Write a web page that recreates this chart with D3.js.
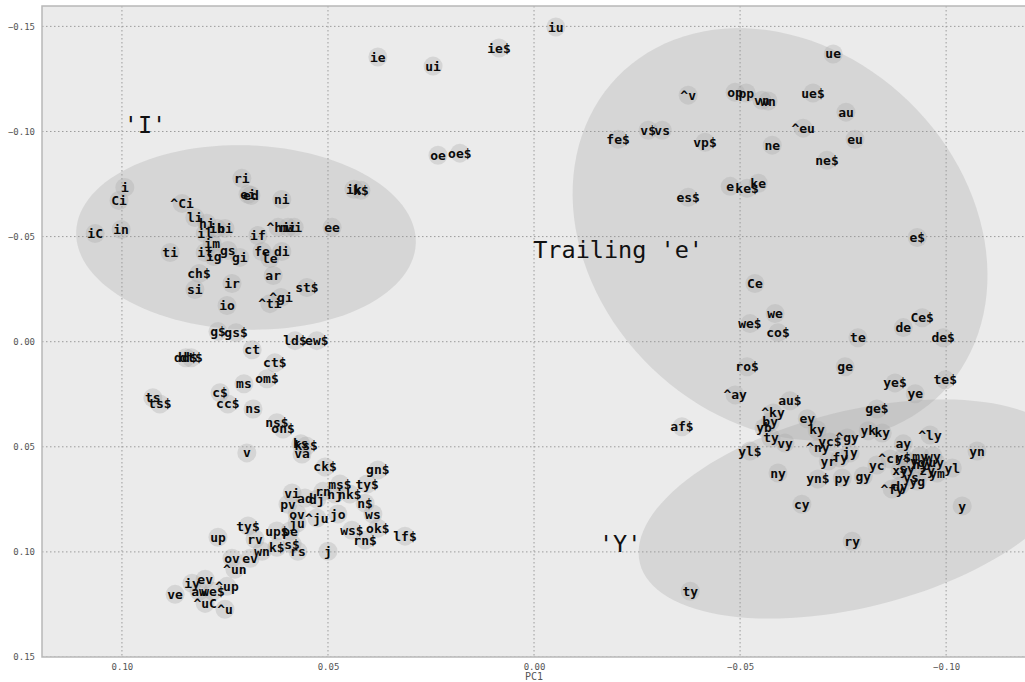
<!DOCTYPE html>
<html>
<head>
<meta charset="utf-8">
<script src="https://cdn.jsdelivr.net/npm/d3@7"></script>
<style>
  html, body { margin: 0; padding: 0; background: #ffffff; }
  svg { display: block; }
</style>
</head>
<body>
<svg id="chart" width="1025" height="682"></svg>
<script>
// Bigram features projected on the first two principal components.
const labels = [
  "iu","ie$","ie","ui","oe","oe$","ik","k$",
  "i","Ci","iC","in","^Ci","ri","ei","ed","ni","li","hi","ih","bi","il","im",
  "^hi","mi","wi","if","ee","ti","it","ig","gs","gi","fe","le","di",
  "ch$","si","ir","ar","st$","^gi","^ti","io","g$","gs$",
  "ld$","ew$","ct","dd$","dt$","ct$","om$","ms","c$","cc$","ts","ts$","ns","ns$","on$",
  "ks","ks$","va","v","ck$",
  "gn$","ms$","ty$","vi","ad","dj","rn","nj","nk$","pv","ov","^ju","jo","n$","ws","ju",
  "up$","pe","ws$","ok$","rn$","lf$","j","ty$","up","rv","k$","s$","rs",
  "ov","ev","wn","^un","iy","ev","^up","aw","we$","ve","^uC","^u",
  "ue","^v","op","pp","vn","wn","ue$","au","^eu","eu","ne","ne$",
  "fe$","v$","vs","vp$","es$","e","ke$","ke","e$",
  "Ce","we","we$","co$","Ce$","de","te","de$","ro$","ge","ye$","te$","ye",
  "^ay","au$","af$","ge$",
  "^ky","ey","ky","by","yb","^gy","yk","ky","ty","vy","yl$","yc$","^ny","yr","fy","jy",
  "ny","yn$","py","gy","cy","ry","ty",
  "ay","^ly","yn","yl","y","yc","^cr","y$","wy","my","ym","xy","sy","hy","yg","ys",
  "dy","^fy","zy","uy","oy","^y"
];

const pc1 = [
  -0.0053, 0.0085, 0.0379, 0.0245, 0.0233, 0.0180, 0.0437, 0.0420,
  0.0993, 0.1007, 0.1065, 0.1002, 0.0854, 0.0709, 0.0694, 0.0687, 0.0612, 0.0823, 0.0794, 0.0769, 0.0750, 0.0798, 0.0781,
  0.0621, 0.0597, 0.0582, 0.0670, 0.0490, 0.0883, 0.0798, 0.0777, 0.0743, 0.0714, 0.0660, 0.0641, 0.0612,
  0.0813, 0.0823, 0.0733, 0.0633, 0.0551, 0.0614, 0.0641, 0.0745, 0.0767, 0.0723,
  0.0580, 0.0527, 0.0684, 0.0845, 0.0832, 0.0629, 0.0648, 0.0704, 0.0762, 0.0743, 0.0925, 0.0908, 0.0682, 0.0624, 0.0609,
  0.0566, 0.0553, 0.0563, 0.0697, 0.0507,
  0.0379, 0.0471, 0.0405, 0.0587, 0.0556, 0.0527, 0.0512, 0.0483, 0.0447, 0.0597, 0.0575, 0.0527, 0.0476, 0.0410, 0.0391, 0.0575,
  0.0624, 0.0592, 0.0442, 0.0379, 0.0410, 0.0313, 0.0500, 0.0694, 0.0767, 0.0677, 0.0624, 0.0587, 0.0573,
  0.0733, 0.0689, 0.0660, 0.0726, 0.0830, 0.0798, 0.0745, 0.0813, 0.0779, 0.0871, 0.0798, 0.0750,
  -0.0726, -0.0374, -0.0488, -0.0515, -0.0553, -0.0568, -0.0677, -0.0757, -0.0653, -0.0779, -0.0578, -0.0711,
  -0.0204, -0.0277, -0.0311, -0.0415, -0.0374, -0.0476, -0.0517, -0.0544, -0.0930,
  -0.0536, -0.0585, -0.0524, -0.0592, -0.0942, -0.0896, -0.0786, -0.0993, -0.0517, -0.0755, -0.0876, -0.0998, -0.0925,
  -0.0488, -0.0621, -0.0359, -0.0832,
  -0.0580, -0.0663, -0.0687, -0.0573, -0.0558, -0.0760, -0.0811, -0.0845, -0.0575, -0.0609, -0.0524, -0.0718, -0.0689, -0.0714, -0.0743, -0.0767,
  -0.0592, -0.0689, -0.0748, -0.0799, -0.0650, -0.0772, -0.0379,
  -0.0896, -0.0961, -0.1075, -0.1015, -0.1039, -0.0832, -0.0864, -0.0896, -0.0968, -0.0937, -0.0978, -0.0888, -0.0905, -0.0937, -0.0930, -0.0915,
  -0.0888, -0.0869, -0.0954, -0.0976, -0.0949, -0.0913
];

const pc2 = [
  -0.1497, -0.1397, -0.1354, -0.1311, -0.0887, -0.0897, -0.0725, -0.0720,
  -0.0734, -0.0672, -0.0515, -0.0534, -0.0658, -0.0777, -0.0701, -0.0696, -0.0677, -0.0591, -0.0563, -0.0539, -0.0539, -0.0515, -0.0467,
  -0.0544, -0.0544, -0.0544, -0.0505, -0.0544, -0.0424, -0.0424, -0.0405, -0.0434, -0.0401, -0.0429, -0.0396, -0.0429,
  -0.0324, -0.0248, -0.0277, -0.0315, -0.0258, -0.0210, -0.0181, -0.0172, -0.0048, -0.0043,
  -0.0005, -0.0005, 0.0038, 0.0076, 0.0076, 0.0100, 0.0176, 0.0200, 0.0243, 0.0296, 0.0267, 0.0296, 0.0320, 0.0386, 0.0415,
  0.0486, 0.0496, 0.0534, 0.0529, 0.0596,
  0.0610, 0.0677, 0.0677, 0.0720, 0.0744, 0.0749, 0.0711, 0.0725, 0.0725, 0.0773, 0.0820, 0.0839, 0.0820, 0.0768, 0.0820, 0.0863,
  0.0901, 0.0901, 0.0897, 0.0887, 0.0944, 0.0925, 0.0997, 0.0877, 0.0930, 0.0939, 0.0978, 0.0963, 0.0997,
  0.1030, 0.1030, 0.0997, 0.1083, 0.1149, 0.1130, 0.1164, 0.1187, 0.1187, 0.1202, 0.1245, 0.1273,
  -0.1369, -0.1173, -0.1187, -0.1183, -0.1149, -0.1145, -0.1183, -0.1092, -0.1016, -0.0963, -0.0935, -0.0863,
  -0.0963, -0.1006, -0.1006, -0.0949, -0.0687, -0.0739, -0.0730, -0.0754, -0.0496,
  -0.0277, -0.0134, -0.0086, -0.0043, -0.0114, -0.0067, -0.0019, -0.0019, 0.0119, 0.0119, 0.0196, 0.0181, 0.0248,
  0.0253, 0.0281, 0.0405, 0.0320,
  0.0339, 0.0367, 0.0420, 0.0382, 0.0410, 0.0458, 0.0424, 0.0434, 0.0458, 0.0482, 0.0520, 0.0477, 0.0505, 0.0568, 0.0553, 0.0529,
  0.0625, 0.0653, 0.0649, 0.0639, 0.0773, 0.0949, 0.1187,
  0.0486, 0.0444, 0.0520, 0.0601, 0.0782, 0.0587, 0.0558, 0.0553, 0.0544, 0.0544, 0.0625, 0.0615, 0.0601, 0.0582, 0.0663, 0.0644,
  0.0687, 0.0701, 0.0615, 0.0577, 0.0577, 0.0572
];

// Cluster regions: centre plus the two principal half-axes, all in PC units.
const clusterNames = ["'I'", "Trailing 'e'", "'Y'"];
const clusterCenter1 = [0.0699, -0.0597, -0.0782];
const clusterCenter2 = [-0.0496, -0.0510, 0.0796];
const clusterMajor = [[-0.0412, 0.0028], [-0.0395, 0.0749], [-0.0525, -0.0258]];
const clusterMinor = [[0.00078, 0.0438], [0.0312, 0.0634], [-0.00575, 0.0453]];
// Where each cluster's caption sits, in PC units.
const captionPc1 = [0.0944, 0.0002, -0.0209];
const captionPc2 = [-0.1030, -0.0434, 0.0963];

const xTicks = [0.10, 0.05, 0.00, -0.05, -0.10];
const yTicks = [-0.15, -0.10, -0.05, 0.00, 0.05, 0.10, 0.15];

const svg = d3.select("#chart");
const plotLeft = 42, plotRight = 1031, plotTop = 6, plotBottom = 657;

const x = d3.scaleLinear().domain([0.1194, -0.1206]).range([plotLeft, plotRight]);
const y = d3.scaleLinear().domain([-0.1597, 0.15]).range([plotTop, plotBottom]);

svg.append("defs").append("clipPath").attr("id", "plotclip")
  .append("rect").attr("x", plotLeft).attr("y", plotTop)
  .attr("width", plotRight - plotLeft).attr("height", plotBottom - plotTop);

// plot background
svg.append("rect")
  .attr("x", plotLeft).attr("y", plotTop)
  .attr("width", plotRight - plotLeft).attr("height", plotBottom - plotTop)
  .attr("fill", "#ebebeb");

const plot = svg.append("g").attr("clip-path", "url(#plotclip)");

// dotted grid
const grid = plot.append("g");
grid.selectAll("line.gx").data(xTicks).join("line")
  .attr("class", "gx")
  .attr("x1", d => x(d)).attr("x2", d => x(d))
  .attr("y1", plotTop).attr("y2", plotBottom)
  .attr("stroke", "#9c9c9c").attr("stroke-width", 1)
  .attr("stroke-dasharray", "1.5,2.5");
grid.selectAll("line.gy").data(yTicks).join("line")
  .attr("class", "gy")
  .attr("y1", d => y(d)).attr("y2", d => y(d))
  .attr("x1", plotLeft).attr("x2", plotRight)
  .attr("stroke", "#9c9c9c").attr("stroke-width", 1)
  .attr("stroke-dasharray", "1.5,2.5");

// cluster ellipses
const steps = d3.range(0, 361, 3).map(a => a * Math.PI / 180);
const ellipseLine = d3.line().curve(d3.curveLinearClosed);
clusterNames.forEach((name, k) => {
  const pts = steps.map(t => [
    x(clusterCenter1[k] + Math.cos(t) * clusterMajor[k][0] + Math.sin(t) * clusterMinor[k][0]),
    y(clusterCenter2[k] + Math.cos(t) * clusterMajor[k][1] + Math.sin(t) * clusterMinor[k][1])
  ]);
  plot.append("path")
    .attr("d", ellipseLine(pts))
    .attr("fill", "#999999")
    .attr("fill-opacity", 0.25)
    .attr("stroke", "none");
});

// point markers
const idx = d3.range(labels.length);
plot.append("g").selectAll("circle").data(idx).join("circle")
  .attr("cx", i => x(pc1[i]))
  .attr("cy", i => y(pc2[i]))
  .attr("r", 9.5)
  .attr("fill", "#a8a8a8")
  .attr("fill-opacity", 0.32);

// feature labels
plot.append("g").selectAll("text").data(idx).join("text")
  .attr("x", i => x(pc1[i]))
  .attr("y", i => y(pc2[i]))
  .attr("text-anchor", "middle")
  .attr("dominant-baseline", "central")
  .attr("font-family", "DejaVu Sans Mono, monospace")
  .attr("font-size", 13)
  .attr("font-weight", "bold")
  .attr("fill", "#0a0a0a")
  .text(i => labels[i]);

// cluster captions
plot.append("g").selectAll("text").data(clusterNames).join("text")
  .attr("x", (d, k) => x(captionPc1[k]))
  .attr("y", (d, k) => y(captionPc2[k]))
  .attr("text-anchor", (d, k) => k === 1 ? "start" : "middle")
  .attr("dominant-baseline", "central")
  .attr("font-family", "DejaVu Sans Mono, monospace")
  .attr("font-size", 23.5)
  .attr("fill", "#111")
  .text(d => d);

// frame
svg.append("rect")
  .attr("x", plotLeft).attr("y", plotTop)
  .attr("width", plotRight - plotLeft).attr("height", plotBottom - plotTop)
  .attr("fill", "none").attr("stroke", "#b8b8b8").attr("stroke-width", 1.5);

// axes
const xAxis = svg.append("g").attr("transform", `translate(0,${plotBottom})`)
  .call(d3.axisBottom(x).tickValues(xTicks).tickFormat(d3.format(".2f")).tickSize(0).tickPadding(7));
const yAxis = svg.append("g").attr("transform", `translate(${plotLeft},0)`)
  .call(d3.axisLeft(y).tickValues(yTicks).tickFormat(d3.format(".2f")).tickSize(0).tickPadding(7));
[xAxis, yAxis].forEach(g => {
  g.select(".domain").remove();
  g.selectAll("text")
    .attr("font-family", "DejaVu Sans Mono, monospace")
    .attr("font-size", 9)
    .attr("fill", "#555");
});

svg.append("text")
  .attr("x", x(0)).attr("y", 680)
  .attr("text-anchor", "middle")
  .attr("font-family", "DejaVu Sans Mono, monospace")
  .attr("font-size", 10)
  .attr("fill", "#555")
  .text("PC1");
</script>
</body>
</html>
